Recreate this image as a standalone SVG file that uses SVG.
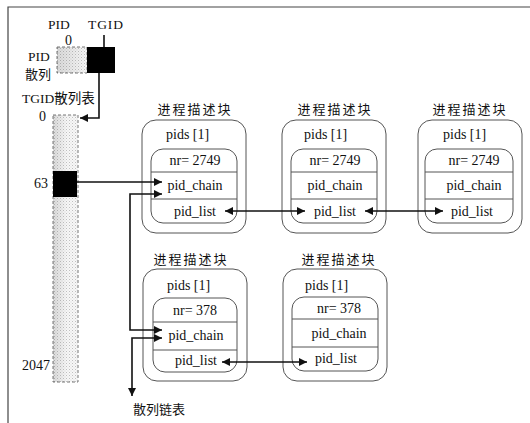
<svg xmlns="http://www.w3.org/2000/svg" width="530" height="423" viewBox="0 0 530 423">
<style>
.t{font-family:"Liberation Serif","Times New Roman","Noto Sans CJK SC",serif;fill:#111;}
.f14{font-size:14px;}
.f13{font-size:13.5px;}
.cjk{font-family:"Noto Sans CJK SC","Noto Sans CJK TC",sans-serif;font-size:13px;fill:#111;}
.hdr{letter-spacing:2px;}
.mid{text-anchor:middle;}
.outer{fill:#fff;stroke:#555;stroke-width:1;}
.inner{fill:#fff;stroke:#555;stroke-width:1;}
.div{stroke:#555;stroke-width:1;}
.frame{stroke:#444;stroke-width:1.2;fill:none;}
.con{fill:none;stroke:#111;stroke-width:1.6;}
.dash{stroke:#777;stroke-width:1;stroke-dasharray:3 2;}
</style>
<defs>
<pattern id="dots" width="3" height="3" patternUnits="userSpaceOnUse">
<rect width="3" height="3" fill="#f7f7f7"/>
<rect x="0" y="0" width="1" height="1" fill="#c0c0c0"/>
<rect x="1.5" y="1.5" width="1" height="1" fill="#d8d8d8"/>
</pattern>
<linearGradient id="shade" x1="0" y1="0" x2="1" y2="0">
<stop offset="0" stop-color="#000" stop-opacity="0.12"/>
<stop offset="1" stop-color="#000" stop-opacity="0"/>
</linearGradient>
<marker id="ah" viewBox="0 0 10 10" refX="10" refY="5" markerWidth="9" markerHeight="8" markerUnits="userSpaceOnUse" orient="auto-start-reverse">
<path d="M0,0 L10,5 L0,10 z" fill="#111"/>
</marker>
</defs>
<rect width="530" height="423" fill="#fff"/>
<path class="frame" d="M8,423 V7 H530"/>

<g id="pid-hash">
<text class="t f13" x="48" y="29">PID</text>
<text class="t f13" x="88" y="29" textLength="35">TGID</text>
<text class="t f14" x="65" y="45">0</text>
<text class="t f13" x="28" y="61">PID</text>
<text class="cjk" x="25" y="79">散列</text>
<rect x="57" y="47" width="30" height="26" fill="url(#dots)" class="dash"/>
<rect x="57" y="47" width="30" height="26" fill="url(#shade)"/>
<rect x="87" y="47" width="28" height="26" fill="#000"/>
</g>

<g id="tgid-hash">
<text class="t f13" x="22" y="103">TGID散列表</text>
<text class="t f14" x="39" y="121">0</text>
<text class="t f14" x="34" y="188">63</text>
<text class="t f14" x="22" y="370">2047</text>
<rect x="53" y="115" width="25" height="267" fill="url(#dots)" class="dash"/>
<rect x="53" y="115" width="14" height="267" fill="url(#shade)"/>
<rect x="53" y="171" width="24" height="26" fill="#000"/>
</g>

<g id="task1" transform="translate(142,120)">
<text class="cjk hdr mid" x="53" y="-6">进程描述块</text>
<rect class="outer" x="0" y="0" width="104" height="113" rx="14"/>
<text class="t f14" x="24" y="19">pids [1]</text>
<rect class="inner" x="9" y="29" width="86" height="74" rx="12"/>
<line class="div" x1="9" y1="52" x2="95" y2="52"/>
<line class="div" x1="9" y1="79" x2="95" y2="79"/>
<text class="t f14 mid" x="53" y="45">nr= 2749</text>
<text class="t f14 mid" x="53" y="70">pid_chain</text>
<text class="t f14 mid" x="53" y="96">pid_list</text>
</g>

<g id="task2" transform="translate(282,120)">
<text class="cjk hdr mid" x="53" y="-6">进程描述块</text>
<rect class="outer" x="0" y="0" width="104" height="113" rx="14"/>
<text class="t f14" x="22" y="19">pids [1]</text>
<rect class="inner" x="9" y="29" width="86" height="74" rx="12"/>
<line class="div" x1="9" y1="52" x2="95" y2="52"/>
<line class="div" x1="9" y1="79" x2="95" y2="79"/>
<text class="t f14 mid" x="53" y="45">nr= 2749</text>
<text class="t f14 mid" x="53" y="70">pid_chain</text>
<text class="t f14 mid" x="53" y="96">pid_list</text>
</g>

<g id="task3" transform="translate(418,120)">
<text class="cjk hdr mid" x="52" y="-6">进程描述块</text>
<rect class="outer" x="0" y="0" width="104" height="113" rx="14"/>
<text class="t f14" x="25" y="19">pids [1]</text>
<rect class="inner" x="7" y="29" width="88" height="74" rx="12"/>
<line class="div" x1="7" y1="52" x2="95" y2="52"/>
<line class="div" x1="7" y1="79" x2="95" y2="79"/>
<text class="t f14 mid" x="56" y="45">nr= 2749</text>
<text class="t f14 mid" x="56" y="70">pid_chain</text>
<text class="t f14 mid" x="54" y="96">pid_list</text>
</g>

<g id="task4" transform="translate(143,269)">
<text class="cjk hdr mid" x="48" y="-5">进程描述块</text>
<rect class="outer" x="0" y="0" width="104" height="112" rx="14"/>
<text class="t f14" x="24" y="21">pids [1]</text>
<rect class="inner" x="10" y="29" width="84" height="74" rx="12"/>
<line class="div" x1="10" y1="53" x2="94" y2="53"/>
<line class="div" x1="10" y1="81" x2="94" y2="81"/>
<text class="t f14 mid" x="52" y="46">nr= 378</text>
<text class="t f14 mid" x="53" y="71">pid_chain</text>
<text class="t f14 mid" x="53" y="96">pid_list</text>
</g>

<g id="task5" transform="translate(283,269)">
<text class="cjk hdr mid" x="56" y="-5">进程描述块</text>
<rect class="outer" x="0" y="0" width="104" height="112" rx="14"/>
<text class="t f14" x="22" y="21">pids [1]</text>
<rect class="inner" x="9" y="28" width="86" height="74" rx="12"/>
<line class="div" x1="9" y1="50" x2="95" y2="50"/>
<line class="div" x1="9" y1="78" x2="95" y2="78"/>
<text class="t f14 mid" x="56" y="44">nr= 378</text>
<text class="t f14 mid" x="56" y="69">pid_chain</text>
<text class="t f14 mid" x="53" y="94">pid_list</text>
</g>

<g id="hash-chain-label">
<text class="cjk" x="133" y="414">散列链表</text>
</g>

<g id="connectors">
<path class="con" d="M104,35 V47"/>
<path class="con" d="M99,73 V118 H80" marker-end="url(#ah)"/>
<path class="con" d="M77,182 H162" marker-end="url(#ah)"/>
<path class="con" d="M162,194 H130 V330 H162" marker-start="url(#ah)" marker-end="url(#ah)"/>
<path class="con" d="M162,338 H132 V396" marker-start="url(#ah)" marker-end="url(#ah)"/>
<path class="con" d="M225,211 H305" marker-start="url(#ah)" marker-end="url(#ah)"/>
<path class="con" d="M365,211 H443" marker-start="url(#ah)" marker-end="url(#ah)"/>
<path class="con" d="M222,362 H307" marker-start="url(#ah)" marker-end="url(#ah)"/>
</g>
</svg>
